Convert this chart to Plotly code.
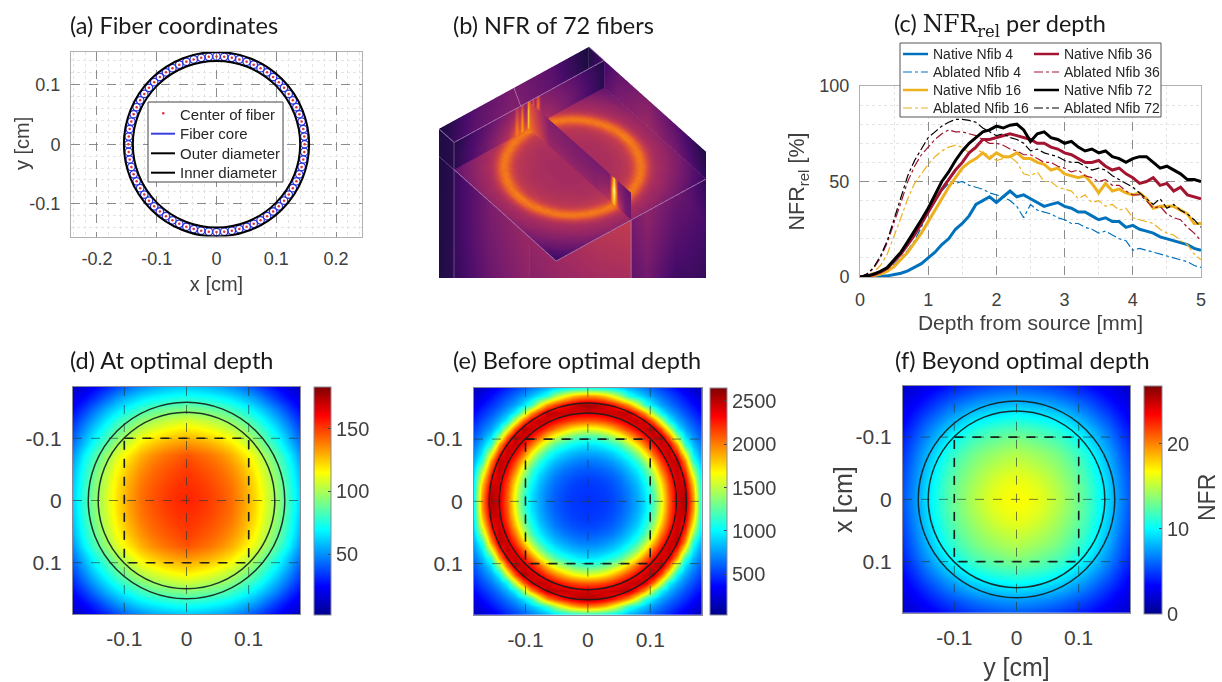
import math
import numpy as np
import plotly.graph_objects as go

W, H = 1222, 682

# ---------- panel (a)
FIBER_ANGLE_DEG = [0,5,10,15,20,25,30,35,40,45,50,55,60,65,70,75,80,85,90,95,100,105,110,115,120,125,130,135,140,145,150,155,160,165,170,175,
                   180,185,190,195,200,205,210,215,220,225,230,235,240,245,250,255,260,265,270,275,280,285,290,295,300,305,310,315,320,325,330,335,340,345,350,355]
FIBER_RADIUS = 0.1475
OUTER_R, INNER_R = 0.155, 0.14
A_LEGEND = ["Center of fiber", "Fiber core", "Outer diameter", "Inner diameter"]

# ---------- panel (c)
DEPTH = [0,.1,.2,.3,.4,.5,.6,.7,.8,.9,1,1.1,1.2,1.3,1.4,1.5,1.6,1.7,1.8,1.9,2,2.1,2.2,2.3,2.4,2.5,2.6,2.7,2.8,2.9,3,3.1,3.2,3.3,3.4,3.5,3.6,3.7,3.8,3.9,4,4.1,4.2,4.3,4.4,4.5,4.6,4.7,4.8,4.9,5]
NATIVE_4 = [0,0,.1,.3,.6,1.2,2,3.2,5,7,10,13,17,20,25,28,32,38,40,42,39,42,45,42,43,41,39,37,38,39,37,36,34,34,32,30,31,29,29,26,27,25,24,23,21,20,19,18,17,15,14]
ABLATED_4 = [0,.3,1,2,4,6.5,10,14,19,26,35,40,45,49,49,50,48,47,46,44,43,42,40,37,31,38,35,34,33,31,30,28,28,26,25,23,24,22,20,19,14,15,14,13,12,11,10,9,8,6,5]
NATIVE_16 = [0,.2,.7,1.5,3,5.5,9,13,18,23,29,35,41,47,52,57,60,62,65,62,65,63,63,65,62,62,60,59,56,57,54,53,52,53,49,44,49,45,46,44,43,44,41,36,37,37,37,35,33,28,28]
ABLATED_16 = [0,.8,2.5,6,12,21,31,41,49,54,59,63,66,68,69,68,65,67,65,64,61,62,63,60,54,53,55,50,50,47,46,45,41,43,39,40,37,38,35,36,31,30,29,28,25,23,22,19,17,12,9]
NATIVE_36 = [0,.4,1.2,2.5,4.5,8,12,17,22,28,34,40,46,51,56,60,65,68,72,72,73,74,75,74,73,72,70,70,68,67,65,64,62,60,60,61,58,56,57,54,52,49,50,52,48,49,45,47,43,42,41]
ABLATED_36 = [0,1.5,4.5,10,18,28,39,50,58,64,68,72,75,77,76,76,75,74,72,70,70,69,67,66,64,64,62,60,60,58,57,55,56,53,52,50,51,48,48,45,43,43,40,36,37,33,31,30,26,23,19]
NATIVE_72 = [0,.5,1.5,3,5,9,13,18.5,24,30,36,43,50,55,61,66,70,73,76,77,79,78,79.5,80,77,71,75,76,73,72,70,71,68,66,67,65,66,63,62,60,62,63,63,60,57,58,56,54,51,51,50]
ABLATED_72 = [0,1.5,5,11,19,30,41,53,61,67,73,76,79,81,82.5,82.5,82,81,78,76,74,75,73,72,70,66,67,65,64,63,61,60,60,58,56,57,56,53,51,49,47,44,41,38,41,36,38,35,33,30,26]

# ---------- panel (d): one quadrant, read at 0.0183 cm spacing
D_GRID = [-.183,-.1647,-.1464,-.1281,-.1098,-.0915,-.0732,-.0549,-.0366,-.0183,0,.0183,.0366,.0549,.0732,.0915,.1098,.1281,.1464,.1647,.183]
D_QUADRANT = [
 [155,153,150,146,141,133,122,109,95,79,62],
 [153,152,149,145,140,132,121,108,94,78,61],
 [152,150,147,143,138,130,119,106,92,76,59],
 [150,147,144,140,134,126,115,102,88,73,56],
 [146,143,140,135,129,120,110,97,83,68,51],
 [135,133,130,125,119,110,100,87,74,59,45],
 [122,120,117,112,107,99,89,78,65,52,38],
 [109,107,104,100,95,88,79,68,56,44,32],
 [92,90,88,85,80,73,65,56,45,34,25],
 [75,74,72,69,65,59,52,43,33,25,18],
 [60,59,57,54,50,45,38,31,24,17,12]]

# ---------- panel (e): one quadrant, read at 0.013 cm spacing
E_GRID = [-.182,-.169,-.156,-.143,-.13,-.117,-.104,-.091,-.078,-.065,-.052,-.039,-.026,-.013,0,.013,.026,.039,.052,.065,.078,.091,.104,.117,.13,.143,.156,.169,.182]
E_QUADRANT = [
 [480,485,500,530,590,670,790,940,1180,1600,2080,2420,2530,1950,1050],
 [485,491,507,540,600,682,802,957,1205,1629,2097,2425,2507,1914,1039],
 [500,507,525,567,628,717,838,1007,1285,1706,2148,2440,2431,1815,1012],
 [530,540,567,604,670,770,897,1089,1407,1835,2230,2464,2316,1644,964],
 [590,600,628,670,749,850,990,1205,1575,2008,2342,2497,2153,1410,899],
 [670,682,717,770,850,957,1134,1432,1806,2182,2440,2484,1950,1113,815],
 [790,802,838,897,990,1134,1386,1706,2080,2359,2492,2223,1578,964,739],
 [940,957,1007,1089,1205,1432,1706,2032,2294,2464,2408,1914,1149,845,663],
 [1180,1205,1285,1407,1575,1806,2080,2294,2454,2507,2060,1410,936,733,584],
 [1600,1629,1706,1835,2008,2182,2359,2464,2507,2107,1545,1000,780,634,517],
 [2080,2097,2148,2230,2342,2440,2492,2408,2060,1545,1012,815,668,548,444],
 [2420,2425,2440,2464,2497,2484,2223,1914,1410,1000,815,679,564,466,366],
 [2530,2507,2431,2316,2153,1950,1578,1149,936,780,668,564,474,380,287],
 [1950,1914,1815,1644,1410,1113,964,845,733,634,548,466,380,294,210],
 [1050,1039,1012,964,899,815,739,663,584,517,444,366,287,210,140]]

# ---------- panel (f): one quadrant, read at 0.0183 cm spacing
F_QUADRANT = [
 [16.8,16.6,16.2,15.5,14.6,13.5,12.3,10.8,9,7.2,5.6],
 [16.6,16.4,16,15.2,14.4,13.4,12.2,10.7,8.9,7.1,5.5],
 [16.2,16,15.5,14.8,14,13.1,11.9,10.4,8.7,6.9,5.3],
 [15.5,15.2,14.8,14.2,13.5,12.6,11.4,10,8.3,6.6,5],
 [14.8,14.5,14.1,13.6,12.9,12,10.9,9.5,7.9,6.2,4.7],
 [13.8,13.5,13.1,12.6,12,11.1,10,8.7,7.2,5.7,4.3],
 [12.4,12.2,11.9,11.4,10.8,10,9,7.8,6.4,5,3.8],
 [10.8,10.6,10.3,9.9,9.4,8.6,7.7,6.6,5.5,4.3,3.2],
 [9,8.8,8.6,8.2,7.8,7.1,6.3,5.4,4.4,3.5,2.7],
 [7.2,7.1,6.9,6.6,6.1,5.6,5,4.3,3.5,2.8,2.2],
 [5.6,5.5,5.3,5,4.7,4.3,3.8,3.2,2.7,2.2,1.7]]
RING_D = [0.158, 0.142]

# ---------- panel (b): 3D slices, colour level 0..100 on the Inferno scale
B_FLOOR_AXIS = [0,.025,.05,.075,.1,.125,.15,.175,.2,.225,.25,.275,.3,.325,.35,.375,.4,.425,.45,.475,.5,
                .525,.55,.575,.6,.625,.65,.675,.7,.725,.75,.775,.8,.825,.85,.875,.9,.925,.95,.975,1]
# upper triangle of one quadrant of the floor, from its centre outwards
B_FLOOR_TRIANGLE = [
 [44,44,44,44,44,45,45,46,46,47,48,50,52,60,72,68,54,47,44,42,40],
 [44,44,44,44,45,45,46,46,47,48,50,52,60,72,68,54,47,44,42,40],
 [44,44,44,45,45,46,46,47,48,50,53,62,71,66,53,46,44,42,40],
 [44,44,45,45,46,46,47,49,50,55,64,71,64,52,46,43,41,39],
 [45,45,46,46,47,48,49,51,57,67,70,61,50,45,43,41,39],
 [46,46,47,47,48,50,53,60,71,69,57,49,45,43,41,38],
 [47,47,48,49,51,56,65,71,65,53,47,44,42,40,38],
 [48,49,50,54,60,71,69,59,50,45,43,41,39,37],
 [50,52,58,67,70,64,53,47,44,42,41,38,36],
 [58,65,71,68,57,49,45,43,41,40,37,35],
 [71,69,59,51,46,44,42,41,38,36,34],
 [60,52,47,45,43,41,39,37,35,33],
 [47,45,43,42,40,38,36,34,32],
 [43,42,40,38,36,35,32,30],
 [40,38,37,35,33,31,29],
 [37,35,33,31,29,27],
 [33,31,30,27,25],
 [30,28,25,23],
 [25,24,22],
 [22,20],
 [18]]
B_FLOOR_Z = -0.2
B_BOTTOM = -1.75

WALL_B_V = [0,.25,.5,.75,1]
WALL_B_Z = [0,-.2,-.5,-.9,-1.3,-1.75]
WALL_B = [[12,28,36,26,12],[16,34,42,32,16],[16,34,42,30,22],[14,30,38,24,18],[12,26,32,16,16],[10,22,28,14,14]]

WALL_BACK_U = [0,.25,.5,.75,1]
WALL_BACK_Z = [0,-.2]
WALL_BACK = [[10,26,34,26,10],[12,28,36,28,12]]

SLICE_V = 0.13
UPPER_U = [0,.2,.38,.42,.44,.46,.47,.485,.5,.515,.53,.545,.56,.58,.6,.64,.8,1]
UPPER_Z = [0,-.07,-.14,-.2]
UPPER = [[12,26,35,36,60,38,55,38,80,38,40,55,40,50,38,36,26,12],
         [14,28,38,40,70,42,72,45,100,45,45,70,48,60,44,40,28,14],
         [14,30,42,44,58,46,60,50,98,52,55,78,55,70,52,44,30,14],
         [14,30,46,48,50,50,52,58,90,62,65,78,64,72,60,48,30,14]]
LOWER_U = [0,.25,.5,.75,1]
LOWER_Z = [-.2,-.7,-1.2,-1.75]
LOWER = [[20,34,44,34,18],[20,34,44,34,18],[18,32,40,30,16],[16,30,36,26,14]]

MID_U = 0.5
MID_UP_V = [.13,.3,.5,.7,.82,.84,.855,.87,.89,.95,1]
MID_UP_Z = [0,-.1,-.2]
MID_UP = [[60,36,34,32,34,60,90,60,36,30,28],[65,38,36,36,40,80,100,80,42,32,30],[70,42,40,40,50,75,85,70,55,34,30]]
MID_LOW_V = [.13,.4,.7,1]
MID_LOW_Z = [-.2,-.6,-1,-1.4,-1.75]
MID_LOW = [[46,50,54,52],[44,48,48,46],[40,42,42,40],[36,38,38,36],[34,34,34,34]]

STRIP_V = [0,.13]
STRIP_Z = [0,-1.75]
STRIP = [[12,14],[12,16]]

# frame lines of the slices: (u, v, z) columns
FRAME_U = [0,1,1,0,0,None, 1,1,None, 0,0,None, 1,1,None, .5,.5,None, .5,.5,None, 0,1,1,0,0,None, .5,.5,.5,None, .5,.5,None, 1,1]
FRAME_V = [.13,.13,.13,.13,.13,None, .13,.13,None, 0,.13,None, 0,.13,None, 0,.13,None, .13,1,None, 0,0,1,1,0,None, 1,1,1,None, .13,.13,None, 0,.13]
FRAME_Z = [0,0,-.2,-.2,0,None, -.2,-1.75,None, 0,0,None, 0,0,None, 0,-.2,None, -.2,-.2,None, -.2,-.2,-.2,-.2,-.2,None, -.2,-1.0,-1.75,None, -1.05,-1.75,None, -.2,-.2]

JET = [[0,"#00008f"],[.125,"#0000ff"],[.375,"#00ffff"],[.625,"#ffff00"],[.875,"#ff0000"],[1,"#800000"]]
TICK_FONT = "Liberation Sans"
TXT = "#404040"


def dx(a, b):
    return [a / W, b / W]


def dy(top, bottom):
    return [1 - bottom / H, 1 - top / H]


def mirror(q):
    q = np.array(q, dtype=float)
    top = np.hstack([q[:, :0:-1], q])
    return np.vstack([top[:0:-1], top])


def from_triangle(rows):
    n = len(rows)
    q = np.zeros((n, n))
    for i, row in enumerate(rows):
        for k, val in enumerate(row):
            q[i, i + k] = val
            q[i + k, i] = val
    return q


fig = go.Figure()
annots = []

# ---- (a)
rad = np.radians(FIBER_ANGLE_DEG)
fx = FIBER_RADIUS * np.cos(rad)
fy = FIBER_RADIUS * np.sin(rad)
fig.add_trace(go.Scatter(x=fx, y=fy, mode="markers", name="Fiber core", showlegend=False, hoverinfo="skip",
                         marker=dict(symbol="circle-open", size=7.5, color="#2f35e0", line=dict(width=1.3, color="#2f35e0"))))
fig.add_trace(go.Scatter(x=fx, y=fy, mode="markers", name="Center of fiber", showlegend=False,
                         marker=dict(size=2.5, color="#e0303a")))

shapes = [
    dict(type="circle", xref="x", yref="y", x0=-OUTER_R, x1=OUTER_R, y0=-OUTER_R, y1=OUTER_R,
         line=dict(color="black", width=2)),
    dict(type="circle", xref="x", yref="y", x0=-INNER_R, x1=INNER_R, y0=-INNER_R, y1=INNER_R,
         line=dict(color="black", width=2)),
]


def px_x(p):
    return p / W


def px_y(p):
    return 1 - p / H


def px_rect(x0, x1, y0, y1, fill, line):
    shapes.append(dict(type="rect", xref="paper", yref="paper", x0=px_x(x0), x1=px_x(x1), y0=px_y(y1), y1=px_y(y0),
                       fillcolor=fill, line=line))


def px_line(x0, x1, y, color, width, dash="solid"):
    shapes.append(dict(type="line", xref="paper", yref="paper", x0=px_x(x0), x1=px_x(x1), y0=px_y(y), y1=px_y(y),
                       line=dict(color=color, width=width, dash=dash)))


def px_text(t, x, y, size):
    annots.append(dict(text=t, xref="paper", yref="paper", x=px_x(x), y=px_y(y), xanchor="left", yanchor="middle",
                       showarrow=False, font=dict(family=TICK_FONT, size=size, color="#262626")))


def rot_text(t, x, y, size):
    annots.append(dict(text=t, xref="paper", yref="paper", x=px_x(x), y=px_y(y), xanchor="center", yanchor="middle",
                       textangle=-90, showarrow=False, font=dict(family=TICK_FONT, size=size, color=TXT)))


# legend of (a), drawn in its own box
px_rect(148, 283, 102, 182, "white", dict(color="#444444", width=1))
for t, y in zip(A_LEGEND, [114.3, 133.7, 153.3, 172.7]):
    px_text(t, 178, y, 15)
shapes.append(dict(type="circle", xref="paper", yref="paper", x0=px_x(162), x1=px_x(164.5), y0=px_y(114.5), y1=px_y(112),
                   fillcolor="#e0303a", line=dict(width=0)))
px_line(151, 175, 133.7, "#3a3fe0", 2)
px_line(151, 175, 153.3, "black", 2)
px_line(151, 175, 172.7, "black", 2)

# ---- (c)
series = [
    ("Native Nfib 4", NATIVE_4, "#0072BD", 3, "solid", 0, 0),
    ("Ablated Nfib 4", ABLATED_4, "#0072BD", 1.2, "dashdot", 0, 1),
    ("Native Nfib 16", NATIVE_16, "#EDB120", 3, "solid", 0, 2),
    ("Ablated Nfib 16", ABLATED_16, "#EDB120", 1.2, "dashdot", 0, 3),
    ("Native Nfib 36", NATIVE_36, "#A2142F", 3, "solid", 1, 0),
    ("Ablated Nfib 36", ABLATED_36, "#A2142F", 1.2, "dashdot", 1, 1),
    ("Native Nfib 72", NATIVE_72, "#000000", 3, "solid", 1, 2),
    ("Ablated Nfib 72", ABLATED_72, "#000000", 1.2, "dashdot", 1, 3),
]
px_rect(900, 1161, 43, 117, "white", dict(color="#555555", width=1))
for name, vals, col, wid, dash, c, r in series:
    fig.add_trace(go.Scatter(x=DEPTH, y=vals, mode="lines", name=name, showlegend=False, xaxis="x2", yaxis="y2",
                             line=dict(color=col, width=wid, dash=dash)))
    x0 = 903 if c == 0 else 1034
    y = 54 + 18 * r
    px_line(x0, x0 + 25, y, col, 2.5 if wid > 2 else 1.2, "solid" if wid > 2 else "dashdot")
    px_text(name, x0 + 28, y, 14)

# ---- heatmaps
fig.add_trace(go.Heatmap(x=D_GRID, y=D_GRID, z=mirror(D_QUADRANT), xaxis="x3", yaxis="y3", colorscale=JET,
                         zmin=1.3, zmax=183.5, zsmooth="best", hoverinfo="skip",
                         colorbar=dict(x=314 / W, xanchor="left", xpad=0, ypad=0, y=1 - 387 / H, yanchor="top",
                                       len=228 / H, thickness=17, tickvals=[50, 100, 150],
                                       tickfont=dict(family=TICK_FONT, size=20, color=TXT),
                                       outlinecolor="#8a8a9a", outlinewidth=1, ticks="inside", ticklen=3, tickcolor="#444")))
fig.add_trace(go.Heatmap(x=E_GRID, y=E_GRID, z=mirror(E_QUADRANT), xaxis="x4", yaxis="y4", colorscale=JET,
                         zmin=27, zmax=2650, zsmooth="best", hoverinfo="skip",
                         colorbar=dict(x=710 / W, xanchor="left", xpad=0, ypad=0, y=1 - 388 / H, yanchor="top",
                                       len=227 / H, thickness=17, tickvals=[500, 1000, 1500, 2000, 2500],
                                       tickfont=dict(family=TICK_FONT, size=20, color=TXT),
                                       outlinecolor="#8a8a9a", outlinewidth=1, ticks="inside", ticklen=3, tickcolor="#444")))
fig.add_trace(go.Heatmap(x=D_GRID, y=D_GRID, z=mirror(F_QUADRANT), xaxis="x5", yaxis="y5", colorscale=JET,
                         zmin=0, zmax=26.9, zsmooth="best", hoverinfo="skip",
                         colorbar=dict(x=1144 / W, xanchor="left", xpad=0, ypad=0, y=1 - 385.5 / H, yanchor="top",
                                       len=228 / H, thickness=18, tickvals=[0, 10, 20],
                                       tickfont=dict(family=TICK_FONT, size=20, color=TXT),
                                       outlinecolor="#8a8a9a", outlinewidth=1, ticks="inside", ticklen=3, tickcolor="#444")))
rot_text("NFR", 1207, 498, 23)
rot_text("y [cm]", 22, 144, 20)
rot_text("x [cm]", 843, 500, 25)

for xr, yr in (("x3", "y3"), ("x4", "y4"), ("x5", "y5")):
    for t in (-0.1, 0, 0.1):
        shapes.append(dict(type="line", xref=xr, yref=yr, x0=t, x1=t, y0=-.1825, y1=.1825,
                           line=dict(color="rgba(40,60,50,.65)", width=1, dash="dash")))
        shapes.append(dict(type="line", xref=xr, yref=yr, y0=t, y1=t, x0=-.1825, x1=.1825,
                           line=dict(color="rgba(40,60,50,.65)", width=1, dash="dash")))
    for r in RING_D:
        shapes.append(dict(type="circle", xref=xr, yref=yr, x0=-r, x1=r, y0=-r, y1=r,
                           line=dict(color="rgba(20,30,30,.9)", width=1.5)))
    shapes.append(dict(type="rect", xref=xr, yref=yr, x0=-.1, x1=.1, y0=-.1, y1=.1,
                       line=dict(color="rgba(15,20,20,.9)", width=1.6, dash="dash")))

# ---- (b) 3D slices.  Scene x = u, scene y = v
def surf(u, v, z, c):
    fig.add_trace(go.Surface(x=u, y=v, z=z, surfacecolor=c, cmin=0, cmax=100, colorscale="Inferno",
                             showscale=False, hoverinfo="skip", scene="scene",
                             lighting=dict(ambient=1, diffuse=0, specular=0, roughness=1, fresnel=0)))


def plane_u(u0, vs, zs, c):
    V, Z = np.meshgrid(vs, zs)
    surf(np.full(V.shape, u0), V, Z, np.array(c, float))


def plane_v(v0, us, zs, c):
    U, Z = np.meshgrid(us, zs)
    surf(U, np.full(U.shape, v0), Z, np.array(c, float))


UF, VF = np.meshgrid(B_FLOOR_AXIS, B_FLOOR_AXIS)
surf(UF, VF, np.full(UF.shape, B_FLOOR_Z), mirror(from_triangle(B_FLOOR_TRIANGLE)))
plane_u(0, WALL_B_V, WALL_B_Z, WALL_B)
plane_v(0, WALL_BACK_U, WALL_BACK_Z, WALL_BACK)
plane_v(SLICE_V, UPPER_U, UPPER_Z, UPPER)
plane_v(SLICE_V, LOWER_U, LOWER_Z, LOWER)
plane_u(MID_U, MID_UP_V, MID_UP_Z, MID_UP)
plane_u(MID_U, MID_LOW_V, MID_LOW_Z, MID_LOW)
plane_u(1, STRIP_V, STRIP_Z, STRIP)
fig.add_trace(go.Scatter3d(x=FRAME_U, y=FRAME_V, z=FRAME_Z, mode="lines", scene="scene", showlegend=False, hoverinfo="skip",
                           line=dict(color="rgb(176,130,185)", width=1.5)))

hidden = dict(visible=False, showspikes=False)
R = 3.0
ASPECT = 1.6
DIR = np.array([.44, .563, .7])
CENTER = np.array([0, 0, 1.18])
EYE = CENTER + R * DIR


def tick_axis(rng, vals, labels, size, dtick_minor, **kw):
    return dict(range=rng, tickmode="array", tickvals=vals, ticktext=labels, zeroline=False,
                tickfont=dict(family=TICK_FONT, size=size, color=TXT), ticks="", ticklabelstandoff=6,
                showline=True, mirror=True, linecolor="#b0b0b0", linewidth=1,
                showgrid=True, gridcolor="#8c8c8c", griddash="dash", gridwidth=1,
                minor=dict(showgrid=True, gridcolor="#e4e4e4", griddash="dot", dtick=dtick_minor, gridwidth=1), **kw)


def title(text, size=20, standoff=8):
    return dict(text=text, font=dict(family=TICK_FONT, size=size, color=TXT), standoff=standoff)


def map_axis(dom, vals, labels, anchor, ttl=None, rev=False):
    ax = dict(domain=dom, range=[.1825, -.1825] if rev else [-.1825, .1825], tickmode="array", tickvals=vals, ticktext=labels,
              zeroline=False, showgrid=False, ticks="", anchor=anchor, ticklabelstandoff=6,
              tickfont=dict(family=TICK_FONT, size=21, color=TXT), showline=True, mirror=True,
              linecolor="#8a8a9a", linewidth=1)
    if ttl:
        ax["title"] = title(ttl, 25, 10)
    return ax


TV = [-.1, 0, .1]
TL = ["-0.1", "0", "0.1"]

for txt, px, py in [("(a) Fiber coordinates", 68, 25), ("(b) NFR of 72 fibers", 451, 25),
                    ("(c) <span style=\"font-family:'DejaVu Serif'\">NFR<sub>rel</sub></span> per depth", 892, 25),
                    ("(d) At optimal depth", 68, 360), ("(e) Before optimal depth", 451, 360),
                    ("(f) Beyond optimal depth", 893, 360)]:
    annots.append(dict(text=txt, xref="paper", yref="paper", x=px / W, y=1 - py / H, xanchor="left", yanchor="middle",
                       showarrow=False, font=dict(family="Lato", size=23.5, color="#1a1a1a")))

fig.update_layout(
    width=W, height=H, autosize=False, margin=dict(l=0, r=0, t=0, b=0, pad=0, autoexpand=False),
    paper_bgcolor="white", plot_bgcolor="white", shapes=shapes, annotations=annots, showlegend=False,
    xaxis=tick_axis([-.2435, .2435], [-.2, -.1, 0, .1, .2], ["-0.2", "-0.1", "0", "0.1", "0.2"], 18, .02,
                    domain=dx(71, 362), anchor="y", title=title("x [cm]")),
    yaxis=tick_axis([-.155, .155], [-.1, 0, .1], ["-0.1", "0", "0.1"], 18, .02,
                    domain=dy(52, 236.5), anchor="x"),
    xaxis2=tick_axis([0, 5], [0, 1, 2, 3, 4, 5], ["0", "1", "2", "3", "4", "5"], 18, .5,
                     domain=dx(860, 1201), anchor="y2", title=title("Depth from source [mm]", 21, 6)),
    yaxis2=tick_axis([0, 100], [0, 50, 100], ["0", "50", "100"], 18, 10,
                     domain=dy(86, 277), anchor="x2", title=title("NFR<sub>rel</sub> [%]", 21.5, 8)),
    xaxis3=map_axis(dx(73, 300), TV, TL, "y3"),
    yaxis3=map_axis(dy(387, 614), TV, TL, "x3", rev=True),
    xaxis4=map_axis(dx(474, 701.7), TV, TL, "y4"),
    yaxis4=map_axis(dy(387.7, 615), TV, TL, "x4", rev=True),
    xaxis5=map_axis(dx(903, 1130), TV, TL, "y5", ttl="y [cm]"),
    yaxis5=map_axis(dy(385.7, 613), TV, TL, "x5", rev=True),
    scene=dict(domain=dict(x=dx(430, 715), y=dy(40, 278)), xaxis=dict(hidden, range=[0, 1]), yaxis=dict(hidden, range=[0, 1]),
               zaxis=dict(hidden, range=[-1.75, 0]), aspectmode="manual", aspectratio=dict(x=ASPECT, y=ASPECT, z=ASPECT * 1.75),
               bgcolor="rgba(0,0,0,0)",
               camera=dict(projection=dict(type="orthographic"), up=dict(x=0, y=0, z=1),
                           center=dict(x=float(CENTER[0]), y=float(CENTER[1]), z=float(CENTER[2])),
                           eye=dict(x=float(EYE[0]), y=float(EYE[1]), z=float(EYE[2])))),
)

fig.write_html("out.html", config=dict(displayModeBar=False),
               post_script="document.body.style.margin='0';document.body.style.overflow='hidden';")
